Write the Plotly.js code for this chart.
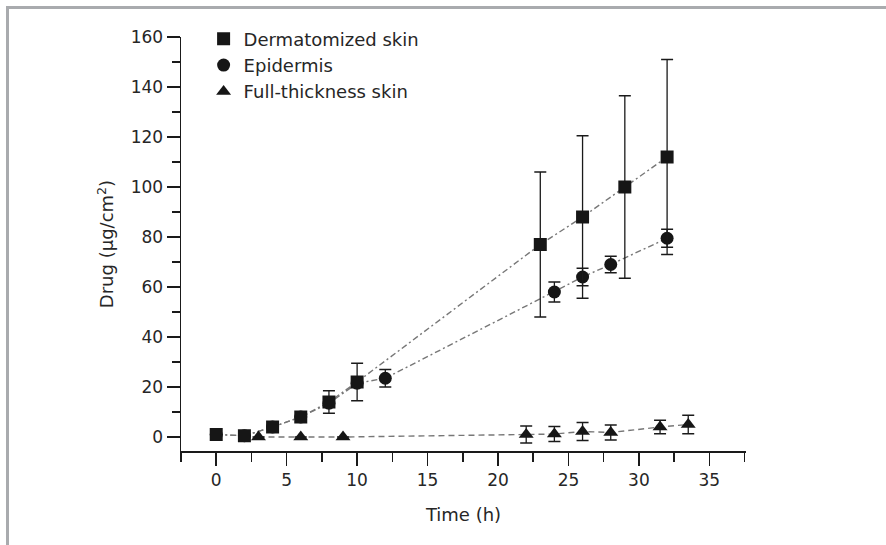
<!DOCTYPE html>
<html>
<head>
<meta charset="utf-8">
<script src="https://cdn.plot.ly/plotly-3.0.1.min.js"></script>
<style>
html,body{margin:0;padding:0;background:#fff;}
#frame{position:absolute;left:6px;top:6px;width:880px;height:539px;border-top:3px solid #a9abae;border-left:3px solid #a9abae;box-sizing:border-box;}
#chart{position:absolute;left:0;top:0;width:886px;height:545px;}
</style>
</head>
<body>
<div id="frame"></div>
<div id="chart"></div>
<script>
// Dermatomized skin
const dermX = [0, 2, 4, 6, 8, 10, 23, 26, 29, 32];
const dermY = [1, 0.5, 4, 8, 14, 22, 77, 88, 100, 112];
const dermErr = [0, 0, 0, 0, 4.5, 7.5, 29, 32.5, 36.5, 39];

// Epidermis
const epiX = [0, 2, 4, 6, 8, 10, 12, 24, 26, 28, 32];
const epiY = [1, 0.5, 4, 8, 13.5, 21.5, 23.5, 58, 64, 69, 79.5];
const epiErr = [0, 0, 0, 0, 0, 0, 3.5, 4, 3.5, 3.3, 3.6];

// Full-thickness skin
const fullX = [3, 6, 9, 22, 24, 26, 28, 31.5, 33.5];
const fullY = [0, 0, 0, 1, 1.2, 2.2, 1.8, 4, 5];
const fullErr = [0, 0, 0, 3.4, 3, 3.6, 3, 2.7, 3.7];

const seriesNames = ['Dermatomized skin', 'Epidermis', 'Full-thickness skin'];

const xTickVals = [0, 5, 10, 15, 20, 25, 30, 35];
const yTickVals = [0, 20, 40, 60, 80, 100, 120, 140, 160];

const FONT = 'DejaVu Sans, Open Sans, sans-serif';
const lineColor = '#777777';
const txt = '#262626';

function lineTrace(x, y, dash) {
  return {x: x, y: y, type: 'scatter', mode: 'lines', showlegend: false, hoverinfo: 'skip',
    line: {color: lineColor, width: 1.4, dash: dash}};
}
function markTrace(x, y, err, name, symbol, size) {
  return {x: x, y: y, type: 'scatter', mode: 'markers', name: name,
    marker: {symbol: symbol, size: size, color: '#161616'},
    error_y: {type: 'data', array: err, visible: true, color: '#1a1a1a', thickness: 1.3, width: 6}};
}

const data = [
  lineTrace(fullX, fullY, '6px,4px'),
  lineTrace(epiX, epiY, '6px,3px,2px,3px'),
  lineTrace(dermX, dermY, '6px,3px,2px,3px'),
  markTrace(fullX, fullY, fullErr, seriesNames[2], 'triangle-up', 13),
  markTrace(epiX, epiY, epiErr, seriesNames[1], 'circle', 13),
  markTrace(dermX, dermY, dermErr, seriesNames[0], 'square', 13)
];

const layout = {
  width: 886, height: 545,
  paper_bgcolor: 'rgba(0,0,0,0)', plot_bgcolor: 'rgba(0,0,0,0)',
  margin: {l: 181, r: 140, t: 37, b: 94},
  font: {family: FONT, size: 17, color: txt},
  showlegend: true,
  legend: {x: 0.04, y: 1.04, xanchor: 'left', yanchor: 'top', traceorder: 'reversed',
    font: {family: FONT, size: 18, color: txt}, bgcolor: 'rgba(0,0,0,0)', itemsizing: 'trace'},
  xaxis: {
    range: [-2.5, 37.6], showgrid: false, zeroline: false,
    showline: true, linecolor: '#1a1a1a', linewidth: 1.5,
    tickmode: 'array', tickvals: xTickVals, ticktext: xTickVals.map(String),
    ticks: 'outside', ticklen: 13, tickwidth: 1.5, tickcolor: '#1a1a1a',
    minor: {tickmode: 'linear', tick0: -2.5, dtick: 2.5, ticks: 'outside', ticklen: 9, tickwidth: 1.5, tickcolor: '#1a1a1a'},
    tickfont: {family: FONT, size: 17, color: txt},
    title: {text: 'Time (h)', font: {family: FONT, size: 18, color: txt}, standoff: 19}
  },
  yaxis: {
    range: [-5.6, 160], showgrid: false, zeroline: false,
    showline: true, linecolor: '#1a1a1a', linewidth: 1.5,
    tickmode: 'array', tickvals: yTickVals, ticktext: yTickVals.map(String),
    ticks: 'outside', ticklen: 13, tickwidth: 1.5, tickcolor: '#1a1a1a',
    minor: {tickmode: 'linear', tick0: 0, dtick: 10, ticks: 'outside', ticklen: 8, tickwidth: 1.5, tickcolor: '#1a1a1a'},
    tickfont: {family: FONT, size: 17, color: txt},
    title: {text: 'Drug (μg/cm<sup>2</sup>)', font: {family: FONT, size: 18, color: txt}, standoff: 12}
  }
};

Plotly.newPlot('chart', data, layout, {displayModeBar: false, staticPlot: true});
</script>
</body>
</html>
